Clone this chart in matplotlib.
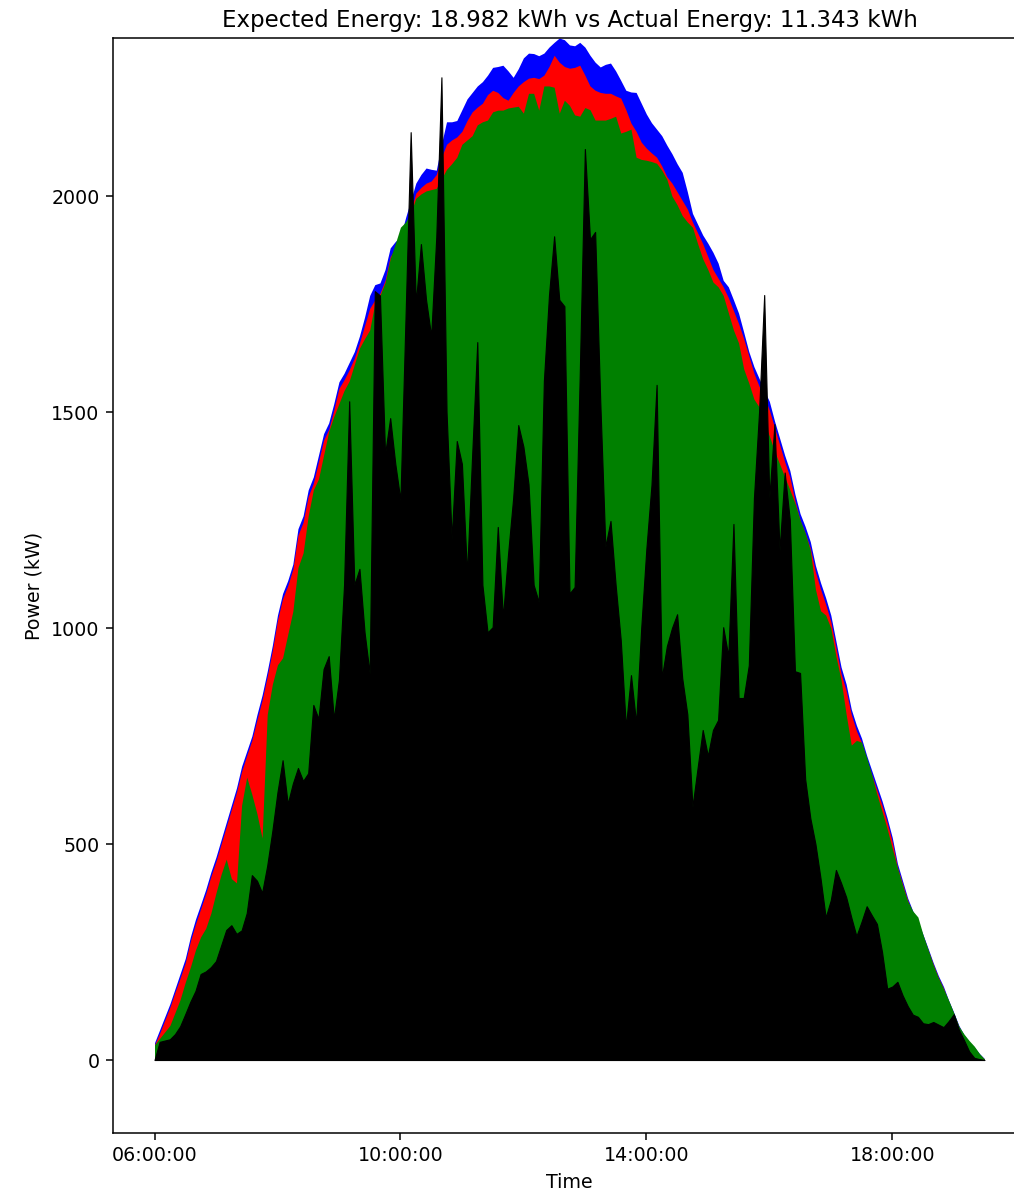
import matplotlib
matplotlib.use("Agg")
import matplotlib.pyplot as plt
import matplotlib.dates as mdates
import pandas as pd

# 5-minute samples from 06:00 to 19:30
times = pd.date_range("2023-06-01 06:00", "2023-06-01 19:30", freq="5min")

expected = [
    40, 70, 100, 130, 165, 200, 235, 285, 326, 360,
    395, 435, 470, 510, 550, 590, 630, 680, 715, 750,
    800, 845, 900, 960, 1030, 1080, 1110, 1148, 1230, 1260,
    1320, 1350, 1400, 1450, 1475, 1520, 1570, 1590, 1615, 1640,
    1676, 1720, 1770, 1795, 1799, 1830, 1880, 1895, 1905, 1950,
    1990, 2030, 2050, 2065, 2062, 2060, 2120, 2172, 2172, 2175,
    2200, 2225, 2240, 2255, 2265, 2280, 2298, 2300, 2303, 2290,
    2275, 2295, 2320, 2331, 2330, 2325, 2331, 2345, 2356, 2366,
    2362, 2350, 2348, 2356, 2345, 2326, 2310, 2299, 2305, 2308,
    2290, 2268, 2245, 2241, 2240, 2215, 2190, 2170, 2155, 2140,
    2118, 2098, 2075, 2055, 2010, 1960, 1935, 1910, 1891, 1870,
    1845, 1805, 1790, 1760, 1729, 1685, 1640, 1605, 1578, 1550,
    1525, 1480, 1440, 1400, 1365, 1310, 1265, 1235, 1200, 1145,
    1105, 1070, 1030, 970, 910, 870, 812, 775, 745, 705,
    670, 635, 600, 560, 515, 455, 415, 375, 345, 320,
    290, 258, 225, 195, 170, 138, 110, 80, 58, 42,
    30, 15, 3,
]

red_series = [
    35, 62, 92, 122, 157, 190, 225, 275, 315, 350,
    385, 425, 460, 500, 540, 580, 620, 668, 705, 740,
    788, 833, 888, 948, 1018, 1068, 1098, 1136, 1215, 1245,
    1305, 1335, 1385, 1435, 1460, 1505, 1555, 1575, 1598, 1625,
    1660, 1700, 1740, 1760, 1775, 1805, 1860, 1878, 1885, 1920,
    1965, 2007, 2020, 2030, 2035, 2050, 2090, 2120, 2130, 2137,
    2150, 2175, 2195, 2206, 2215, 2235, 2245, 2240, 2228, 2222,
    2240, 2255, 2265, 2273, 2275, 2272, 2280, 2300, 2326, 2310,
    2300, 2296, 2298, 2303, 2280, 2255, 2245, 2240, 2238, 2238,
    2232, 2227, 2200, 2169, 2150, 2125, 2111, 2100, 2090, 2070,
    2045, 2030, 2010, 1990, 1970, 1940, 1915, 1890, 1860, 1830,
    1810, 1790, 1765, 1735, 1705, 1670, 1630, 1590, 1560, 1535,
    1505, 1465, 1425, 1385, 1350, 1295, 1250, 1220, 1185, 1130,
    1090, 1055, 1015, 955, 895, 855, 800, 762, 735, 695,
    660, 625, 590, 550, 505, 447, 408, 370, 340, 316,
    286, 254, 221, 191, 166, 135, 107, 77, 56, 40,
    28, 13, 2,
]

green_series = [
    35, 50, 65, 80, 110, 140, 180, 215, 255, 285,
    305, 340, 387, 430, 465, 420, 410, 590, 655, 615,
    570, 514, 800, 870, 915, 931, 985, 1039, 1140, 1174,
    1260, 1320, 1345, 1400, 1455, 1490, 1520, 1550, 1572, 1610,
    1648, 1670, 1690, 1752, 1770, 1800, 1855, 1890, 1928, 1940,
    1960, 1995, 2005, 2012, 2015, 2018, 2040, 2062, 2075, 2090,
    2120, 2130, 2140, 2165, 2172, 2176, 2195, 2199, 2199, 2204,
    2206, 2208, 2192, 2238, 2238, 2199, 2255, 2255, 2252, 2192,
    2222, 2210, 2188, 2185, 2205, 2200, 2176, 2176, 2176, 2180,
    2185, 2146, 2150, 2155, 2090, 2085, 2083, 2080, 2076, 2060,
    2039, 2000, 1980, 1955, 1940, 1928, 1890, 1855, 1830, 1801,
    1790, 1770, 1730, 1690, 1660, 1600, 1567, 1530, 1512, 1475,
    1445, 1410, 1380, 1350, 1320, 1289, 1250, 1220, 1180, 1090,
    1040, 1030, 1000, 935, 880, 800, 729, 740, 736, 700,
    660, 615, 576, 535, 490, 445, 405, 368, 345, 331,
    290, 255, 220, 190, 165, 138, 109, 78, 60, 45,
    32, 15, 2,
]

actual = [
    0, 42, 45, 48, 60, 78, 106, 135, 160, 199,
    205, 215, 229, 265, 301, 312, 292, 300, 340, 428,
    415, 387, 450, 530, 620, 694, 593, 640, 676, 646,
    664, 822, 790, 905, 935, 790, 880, 1100, 1525, 1100,
    1137, 990, 894, 1780, 1770, 1403, 1486, 1380, 1296, 1720,
    2148, 1752, 1889, 1760, 1676, 1905, 2275, 1500, 1206, 1433,
    1380, 1125, 1400, 1662, 1100, 990, 1002, 1234, 1025, 1170,
    1300, 1470, 1420, 1333, 1100, 1060, 1572, 1771, 1907, 1760,
    1745, 1080, 1095, 1586, 2109, 1900, 1917, 1525, 1188, 1248,
    1100, 972, 771, 891, 780, 1000, 1183, 1331, 1563, 884,
    958, 1000, 1032, 884, 800, 586, 676, 764, 704, 764,
    787, 1002, 935, 1241, 838, 838, 914, 1301, 1500, 1771,
    1301, 1472, 1180, 1360, 1250, 900, 896, 650, 560, 500,
    420, 330, 370, 440, 410, 377, 330, 287, 320, 356,
    335, 315, 250, 165, 170, 181, 150, 125, 105, 100,
    85, 83, 88, 82, 76, 90, 106, 70, 46, 20,
    5, 2, 0,
]

title = "Expected Energy: 18.982 kWh vs Actual Energy: 11.343 kWh"

DPI = 137
fig = plt.figure(figsize=(1014 / DPI, 1193 / DPI), dpi=DPI)
ax = fig.add_axes([113 / 1014, 1 - 1133 / 1193, (1026 - 113) / 1014, (1133 - 38) / 1193])

x = times.to_pydatetime()
ax.fill_between(x, 0, expected, color="blue", linewidth=0)
ax.fill_between(x, 0, red_series, color="red", linewidth=0)
ax.fill_between(x, 0, green_series, color="green", linewidth=0)
ax.fill_between(x, 0, actual, color="black", linewidth=0.6, edgecolor="black")

ax.set_ylim(-169, 2366)
ax.xaxis.set_major_locator(mdates.HourLocator(byhour=[6, 10, 14, 18]))
ax.xaxis.set_major_formatter(mdates.DateFormatter("%H:%M:%S"))
ax.set_yticks([0, 500, 1000, 1500, 2000])

ax.set_title(title)
ax.set_xlabel("Time")
ax.set_ylabel("Power (kW)")

fig.savefig("out.png", dpi=DPI)
